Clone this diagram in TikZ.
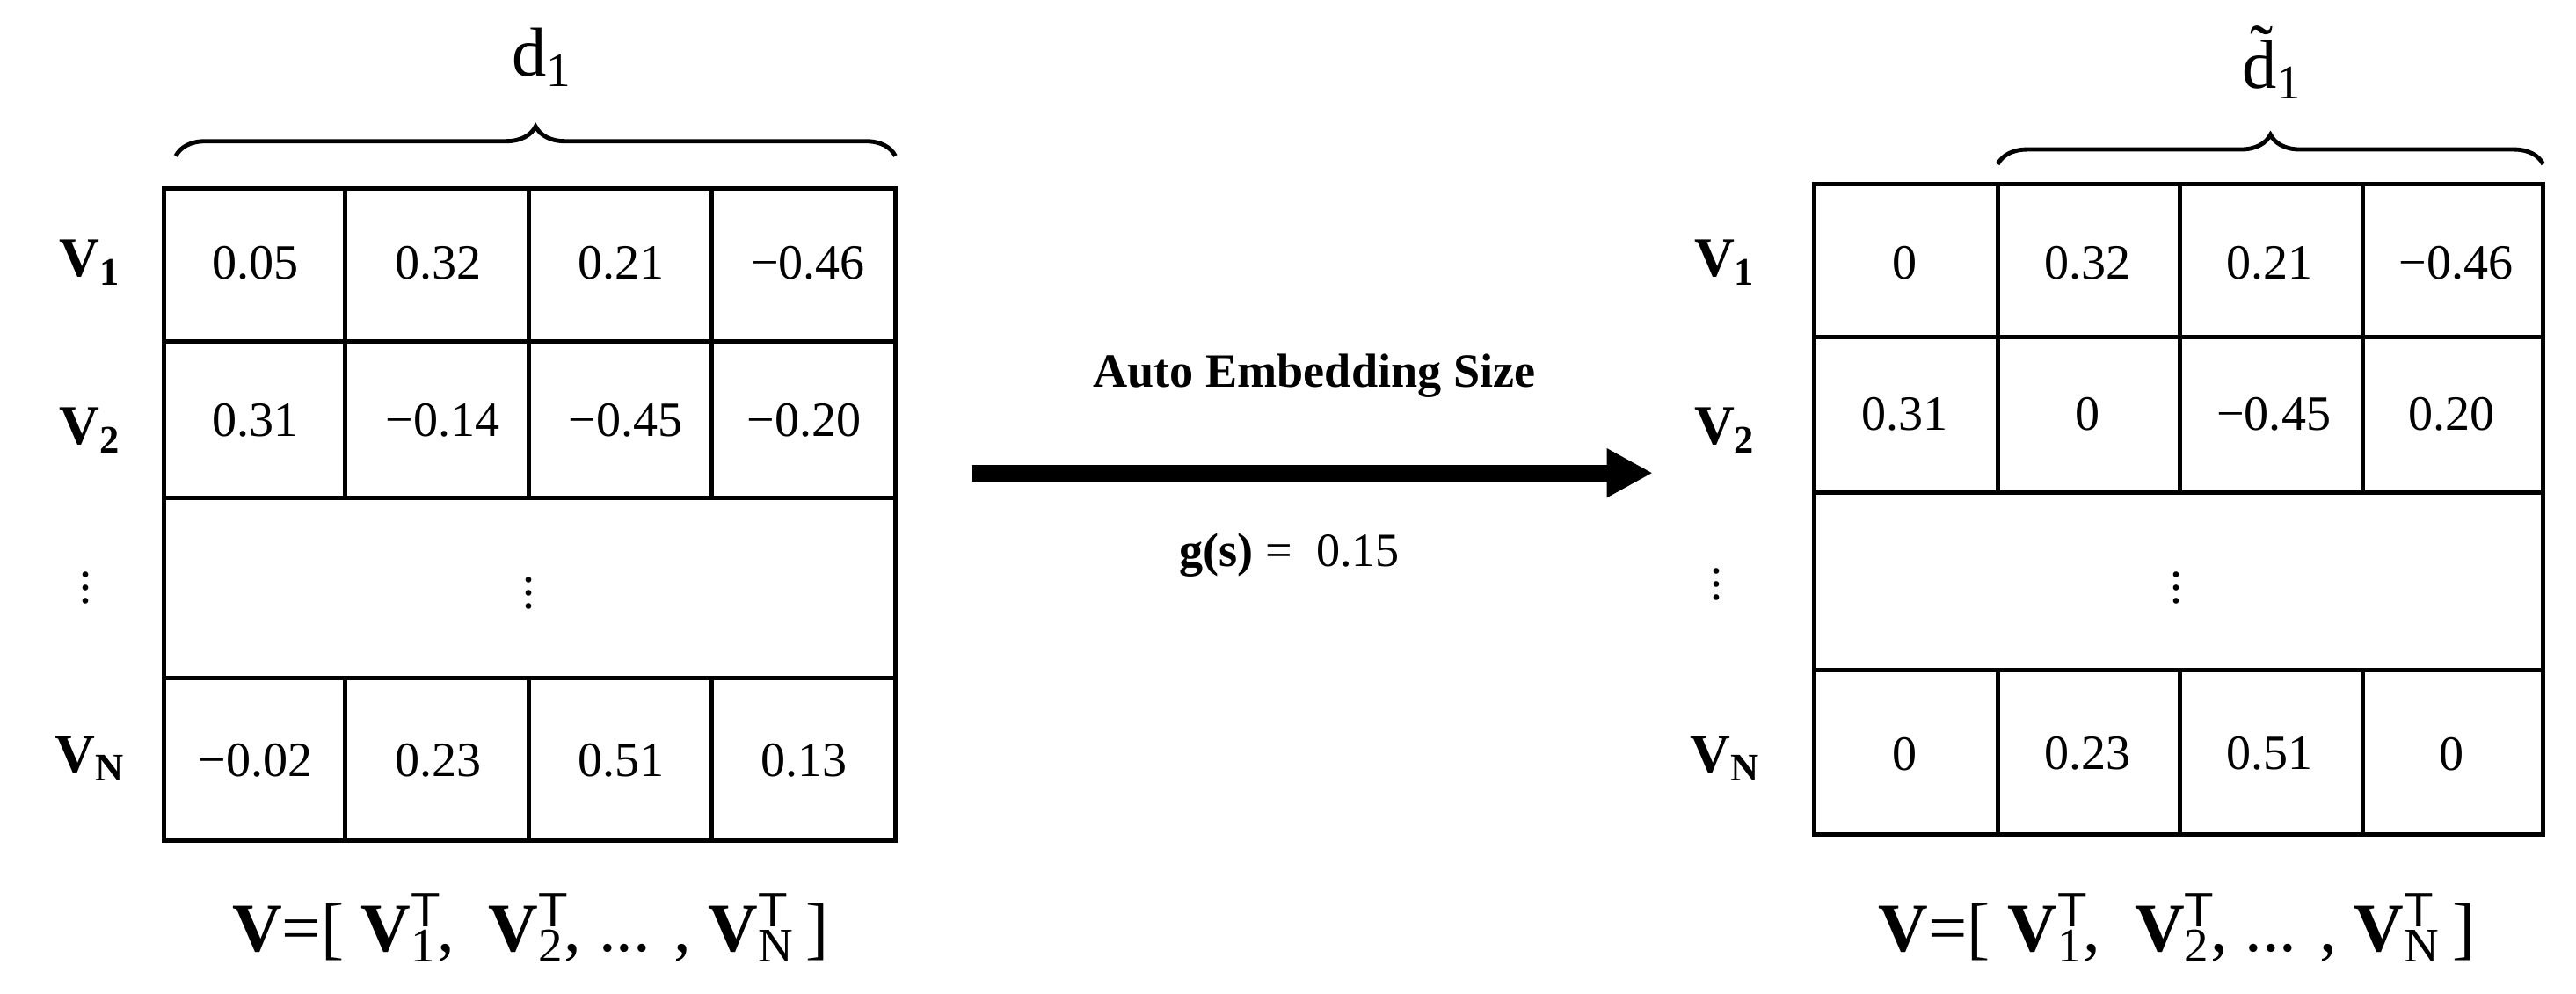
\documentclass[tikz,border=0pt]{standalone}
\usepackage{fontspec}
\setmainfont{Liberation Serif}
\setsansfont{Liberation Sans}
\usetikzlibrary{decorations.pathreplacing,arrows.meta}
\newcommand{\vst}[1]{\textbf{V}\rlap{\textsuperscript{\sffamily T}}\textsubscript{#1}}
\begin{document}
\begin{tikzpicture}[x=0.5pt,y=-0.5pt,
  num/.style={font=\fontsize{15}{17}\selectfont},
  lab/.style={font=\fontsize{17}{19}\selectfont\bfseries},
  form/.style={font=\fontsize{21}{24}\selectfont},
  brc/.style={decorate,decoration={brace,amplitude=9pt},line width=1.3pt}]
\useasboundingbox (0,0) rectangle (1568,605);
% left matrix
\draw[line width=1.3pt] (100,115) rectangle (545,512);
\draw[line width=1.3pt] (100,208)--(545,208) (100,303)--(545,303) (100,413)--(545,413);
\foreach \x in {210,322,433}{\draw[line width=1.3pt] (\x,115)--(\x,303) (\x,413)--(\x,512);}
\foreach \t [count=\i] in {0.05,0.32,0.21,{\,\textminus0.46}}{\node[num] (la\i) at ({100+(\i-0.5)*111.25},160) {\t};}
\foreach \t [count=\i] in {0.31,{\,\textminus0.14},{\,\textminus0.45},{\textminus0.20}}{\node[num] (lb\i) at ({100+(\i-0.5)*111.25},256) {\t};}
\foreach \t [count=\i] in {{\textminus0.02},0.23,0.51,0.13}{\node[num] (lc\i) at ({100+(\i-0.5)*111.25},463) {\t};}
\node[num] (ldots) at (322,355) {$\vdots$};
\node[lab] (lv1) at (55,160) {V\textsubscript{1}};
\node[lab] (lv2) at (55,262) {V\textsubscript{2}};
\node[num] (lvd) at (52,352) {$\vdots$};
\node[lab] (lvn) at (55,462) {V\textsubscript{N}};
\draw[brc] (107,95)--(545,95);
\node[form] (ld) at (330,35) {d\textsubscript{1}};
\node[form] (lf) at (323,565) {\textbf{V}=[ \vst{1},\ \ \vst{2}, ... , \vst{N}\,]};
% right matrix
\draw[line width=1.3pt] (1104,112) rectangle (1548,508);
\draw[line width=1.3pt] (1104,205)--(1548,205) (1104,300)--(1548,300) (1104,408)--(1548,408);
\foreach \x in {1216,1327,1438}{\draw[line width=1.3pt] (\x,112)--(\x,300) (\x,408)--(\x,508);}
\foreach \t [count=\i] in {0,0.32,0.21,{\,\textminus0.46}}{\node[num] (ra\i) at ({1104+(\i-0.5)*111},160) {\t};}
\foreach \t [count=\i] in {0.31,0,{\,\textminus0.45},0.20}{\node[num] (rb\i) at ({1104+(\i-0.5)*111},252) {\t};}
\foreach \t [count=\i] in {0,0.23,0.51,0}{\node[num] (rc\i) at ({1104+(\i-0.5)*111},459) {\t};}
\node[num] (rdots) at (1325,352) {$\vdots$};
\node[lab] (rv1) at (1050,160) {V\textsubscript{1}};
\node[lab] (rv2) at (1050,262) {V\textsubscript{2}};
\node[num] (rvd) at (1045,350) {$\vdots$};
\node[lab] (rvn) at (1050,462) {V\textsubscript{N}};
\draw[brc] (1216,100)--(1548,100);
\node[form] (rd) at (1383,38) {\~{d}\textsubscript{1}};
\node[form] (rf) at (1325,565) {\textbf{V}=[ \vst{1},\ \ \vst{2}, ... , \vst{N}\,]};
% arrow
\coordinate (as) at (592,288);
\coordinate (ae) at (1006,288);
\draw[line width=5pt,-{Triangle[length=14pt,width=14pt]}] (as)--(ae);
\node[font=\fontsize{14.5}{16}\selectfont\bfseries] (ti) at (800,229) {Auto Embedding Size};
\node[font=\fontsize{14.5}{16}\selectfont] (gs) at (785,338) {\textbf{g(s)} = \ 0.15};
\end{tikzpicture}
\end{document}
